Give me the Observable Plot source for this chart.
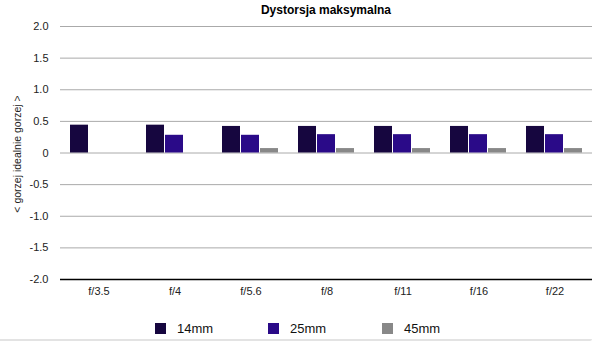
<!DOCTYPE html>
<html><head><meta charset="utf-8">
<script src="https://cdn.jsdelivr.net/npm/d3@7"></script>
<script src="https://cdn.jsdelivr.net/npm/@observablehq/plot@0.6"></script>
<style>
body{margin:0;background:#fff;font-family:"Liberation Sans",Arial,Helvetica,sans-serif;}
#wrap{position:relative;width:602px;height:344px;overflow:hidden;background:#fff}
#title{position:absolute;left:60px;width:532px;top:3px;text-align:center;font-weight:bold;font-size:12px;line-height:14px;color:#000}
#chart{position:absolute;top:20px;left:0}
#ylabel{position:absolute;left:17px;top:154px;transform:translate(-50%,-50%) rotate(-90deg);white-space:nowrap;font-size:10.5px;color:#222}
#legend{position:absolute;top:320px;left:0;width:602px;height:16px;font-size:13px;color:#111}
.item{position:absolute;top:0;display:flex;align-items:center;height:16px}
.sw{width:11px;height:11px;margin-right:11px}
#foot{position:absolute;left:0;top:339px;width:592px;height:2px;background:#e3e3e3;border-radius:0 0 4px 0}
</style>
</head><body>
<div id="wrap">
  <div id="title"></div>
  <div id="chart"></div>
  <div id="ylabel"></div>
  <div id="legend"></div>
  <div id="foot"></div>
</div>
<script>
const titleText = "Dystorsja maksymalna";
const yLabelText = "< gorzej idealnie gorzej >";
const apertures = ["f/3.5","f/4","f/5.6","f/8","f/11","f/16","f/22"];
const series = ["14mm","25mm","45mm"];
const v14 = [0.44,0.44,0.42,0.42,0.42,0.42,0.42];
const v25 = [null,0.28,0.28,0.29,0.29,0.29,0.29];
const v45 = [null,null,0.07,0.07,0.07,0.07,0.07];
const yTicks = [-2,-1.5,-1,-0.5,0,0.5,1,1.5,2];
const colors = ["#16063f","#2a0a88","#888888"];

const values = [v14, v25, v45];
const rows = values.map((vals, i) =>
  apertures.map((a, j) => ({aperture: a, series: series[i], value: vals[j]}))
    .filter(d => d.value != null));

document.getElementById("title").textContent = titleText;
document.getElementById("ylabel").textContent = yLabelText;

const barMarks = rows.map((data, i) => Plot.barY(data, {
  x: "aperture", y: "value", fill: colors[i],
  insetLeft: i * 19, insetRight: (2 - i) * 19 + 1
}));

const chart = Plot.plot({
  width: 602, height: 290,
  marginLeft: 60, marginRight: 10, marginTop: 6, marginBottom: 31,
  style: {fontFamily: "'Liberation Sans', Arial, sans-serif", fontSize: "11px", color: "#222", background: "transparent"},
  x: {domain: apertures, paddingInner: 0.25, paddingOuter: 0.125, label: null},
  y: {domain: [-2, 2], label: null},
  marks: [
    Plot.ruleY(yTicks.filter(t => t !== -2), {stroke: "#aaaaaa", strokeWidth: 1}),
    ...barMarks,
    Plot.ruleY([-2], {stroke: "#000", strokeWidth: 1.5}),
    Plot.axisY({ticks: yTicks, tickSize: 0, tickPadding: 12, label: null,
      tickFormat: d => d === 0 ? "0" : d.toFixed(1), fontSize: 11}),
    Plot.axisX({tickSize: 0, tickPadding: 8, label: null, fontSize: 11})
  ]
});
document.getElementById("chart").appendChild(chart);

const legend = document.getElementById("legend");
const legendX = [155, 268, 382];
series.forEach((s, i) => {
  const it = document.createElement("div");
  it.className = "item";
  it.style.left = legendX[i] + "px";
  const sw = document.createElement("span");
  sw.className = "sw";
  sw.style.background = colors[i];
  const t = document.createElement("span");
  t.textContent = s;
  it.appendChild(sw); it.appendChild(t);
  legend.appendChild(it);
});
</script>
</body></html>
